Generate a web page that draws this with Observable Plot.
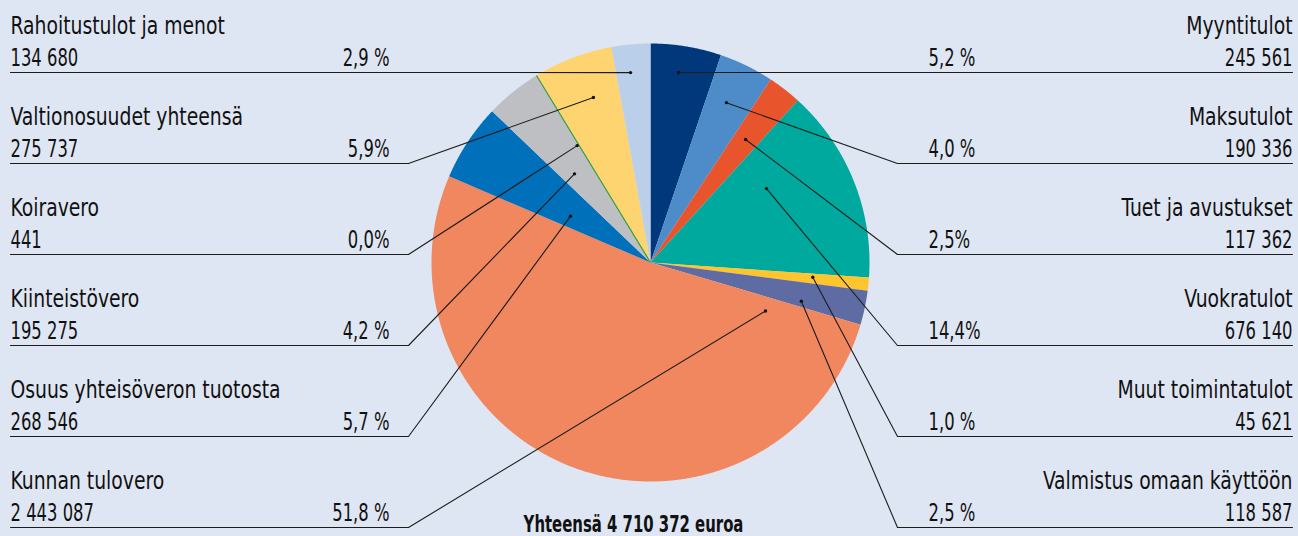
<!DOCTYPE html>
<html><head><meta charset="utf-8">
<script src="https://cdn.jsdelivr.net/npm/d3@7"></script>
<script src="https://cdn.jsdelivr.net/npm/@observablehq/plot@0.6"></script>
<style>
html,body{margin:0;padding:0;background:#dfe6f3;}
#chart{width:1298px;height:536px;}
</style></head><body><div id="chart"></div>
<script>
// ---- data (pie order: clockwise from 12 o'clock) ----
const categories = ["Myyntitulot","Maksutulot","Tuet ja avustukset","Vuokratulot","Muut toimintatulot","Valmistus omaan käyttöön","Kunnan tulovero","Osuus yhteisöveron tuotosta","Kiinteistövero","Koiravero","Valtionosuudet yhteensä","Rahoitustulot ja menot"];
const values = [245561,190336,117362,676140,45621,118587,2443087,268546,195275,441,275737,134680];
const percentLabels = ["5,2 %","4,0 %","2,5%","14,4%","1,0 %","2,5 %","51,8 %","5,7 %","4,2 %","0,0%","5,9%","2,9 %"];
const colors = ["#00387b","#4d8cc9","#e8542b","#00a99e","#fec52f","#5f6ca3","#f0875f","#0070bb","#bdbfc2","#2f9e46","#fed470","#bacfea"];
const totalValue = 4710372;
const totalPrefix = "Yhteensä";
const totalSuffix = "euroa";
// leader-line anchor inside each slice (angle in degrees clockwise from top, radius as share of pie radius)
const anchorAngles = [8.4, 25.4, 37.7, 57.5, 95.2, 104.4, 112.9, 300.1, 319.4, 327.9, 340.9, 354.0];
const anchorRadii = [0.877, 0.808, 0.710, 0.628, 0.744, 0.711, 0.570, 0.422, 0.533, 0.630, 0.797, 0.872];

// ---- layout ----
const W = 1298, H = 536;
const cx = 650, cy = 262, R = 219;
const rowY0 = 72, rowStep = 91;
const leftStart = 10, leftKnee = 408, leftPctX = 389;
const rightEnd = 1292, rightKnee = 897, rightPctX = 928;
const FONT = '"Liberation Sans Narrow", "Arial Narrow", "DejaVu Sans Condensed", sans-serif';
const nameSqueeze = 0.87, numSqueeze = 0.76, totalSqueeze = 0.72;

const fmt = d3.formatLocale({thousands: " ", grouping: [3], decimal: ",", currency: ["", ""]}).format(",");
const rad = d => d * Math.PI / 180;
const px = (a, r) => cx + r * Math.sin(rad(a));
const py = (a, r) => cy - r * Math.cos(rad(a));

const sum = d3.sum(values);
let acc = 0;
const slicePts = [];
const tiny = [];
categories.forEach((name, i) => {
  const a0 = acc / sum * 360;
  acc += values[i];
  const a1 = acc / sum * 360;
  if (a1 - a0 < 0.2) {
    const am = (a0 + a1) / 2;
    tiny.push({name, x1: cx, y1: cy, x2: px(am, R), y2: py(am, R)});
    return;
  }
  slicePts.push({name, x: cx, y: cy});
  const n = Math.max(2, Math.ceil((a1 - a0) / 0.25));
  for (let k = 0; k <= n; k++) {
    const a = a0 + (a1 - a0) * k / n;
    slicePts.push({name, x: px(a, R), y: py(a, R)});
  }
});

const labels = categories.map((name, i) => {
  const side = i < 6 ? "right" : "left";
  const row = i < 6 ? i : 11 - i;
  const y = rowY0 + rowStep * row;
  const dot = {x: px(anchorAngles[i], anchorRadii[i] * R), y: py(anchorAngles[i], anchorRadii[i] * R)};
  return {name, side, y, dot, value: fmt(values[i]), pct: percentLabels[i]};
});
const leaderPts = labels.flatMap(l => l.side === "left"
  ? [{name: l.name, x: leftStart, y: l.y}, {name: l.name, x: leftKnee, y: l.y}, {name: l.name, ...l.dot}]
  : [{name: l.name, ...l.dot}, {name: l.name, x: rightKnee, y: l.y}, {name: l.name, x: rightEnd, y: l.y}]);
const left = labels.filter(l => l.side === "left");
const right = labels.filter(l => l.side === "right");
const totalText = `${totalPrefix} ${fmt(totalValue)} ${totalSuffix}`;

const fs = 24;
const textOpts = {fontSize: fs, fill: "#111", lineAnchor: "bottom", fontFamily: FONT};

const chart = Plot.plot({
  width: W, height: H,
  margin: 0,
  x: {domain: [0, W], range: [0, W], axis: null},
  y: {domain: [0, H], range: [0, H], axis: null},
  color: {domain: categories, range: colors},
  style: {background: "#dfe6f3", fontFamily: FONT},
  marks: [
    Plot.line(slicePts, {x: "x", y: "y", z: "name", fill: "name", stroke: "none", curve: "linear"}),
    Plot.link(tiny, {x1: "x1", y1: "y1", x2: "x2", y2: "y2", stroke: "name", strokeWidth: 1.2}),
    Plot.line(leaderPts, {x: "x", y: "y", z: "name", stroke: "#1c1c1c", strokeWidth: 1.1, curve: "linear"}),
    Plot.dot(labels, {x: d => d.dot.x, y: d => d.dot.y, r: 1.7, fill: "#111", stroke: "none"}),
    // left labels
    Plot.text(left, {...textOpts, x: leftStart, y: d => d.y - 39, text: "name", textAnchor: "start"}),
    Plot.text(left, {...textOpts, x: leftStart, y: d => d.y - 7, text: "value", textAnchor: "start"}),
    Plot.text(left, {...textOpts, x: leftPctX, y: d => d.y - 7, text: "pct", textAnchor: "end"}),
    // right labels
    Plot.text(right, {...textOpts, x: rightEnd, y: d => d.y - 39, text: "name", textAnchor: "end"}),
    Plot.text(right, {...textOpts, x: rightEnd, y: d => d.y - 7, text: "value", textAnchor: "end"}),
    Plot.text(right, {...textOpts, x: rightPctX, y: d => d.y - 7, text: "pct", textAnchor: "start"}),
    // total
    Plot.text([totalText], {x: () => 633, y: () => 531, text: d => d, fontSize: 23, fontWeight: "bold", fill: "#111", lineAnchor: "bottom", fontFamily: FONT, textAnchor: "middle"})
  ]
});
// condense the text horizontally to match the narrow typeface of the original
const nameSet = new Set(categories);
const totalSet = new Set([totalText]);
d3.select(chart).selectAll("text").each(function() {
  const s = this.textContent;
  const k = nameSet.has(s) ? nameSqueeze : totalSet.has(s) ? totalSqueeze : numSqueeze;
  let t = this.getAttribute("transform");
  if (!t) {
    const x = +this.getAttribute("x") || 0, y = +this.getAttribute("y") || 0;
    this.removeAttribute("x"); this.removeAttribute("y");
    t = `translate(${x},${y})`;
  }
  this.setAttribute("transform", `${t} scale(${k},1)`);
});
document.getElementById("chart").appendChild(chart);
</script>
</body></html>
